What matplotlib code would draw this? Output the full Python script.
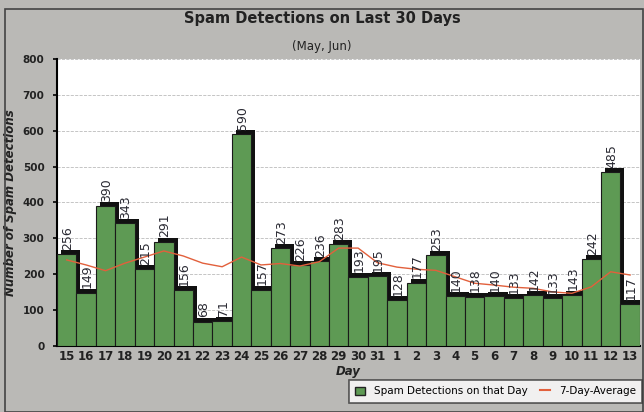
import matplotlib
matplotlib.use("Agg")
import matplotlib.pyplot as plt
from matplotlib.transforms import offset_copy
from matplotlib.patches import Rectangle, Patch
from matplotlib.lines import Line2D

# days shown on the x axis (May 15 .. Jun 13)
days = ["15", "16", "17", "18", "19", "20", "21", "22", "23", "24", "25", "26", "27", "28",
        "29", "30", "31", "1", "2", "3", "4", "5", "6", "7", "8", "9", "10", "11", "12", "13"]
# spam detections per day
counts = [256, 149, 390, 343, 215, 291, 156, 68, 71, 590, 157, 273, 226, 236,
          283, 193, 195, 128, 177, 253, 140, 138, 140, 133, 142, 133, 143, 242, 485, 117]
# 7 day average
avg7 = [240, 226, 210, 231, 248, 265, 251, 231, 221, 248, 226, 230, 223, 235,
        273, 273, 232, 220, 214, 211, 193, 175, 170, 164, 161, 151, 147, 165, 207, 198]

bg = "#bab9b6"
green = "#5e9a54"
red = "#e2603c"

fig = plt.figure(figsize=(6.44, 4.12), dpi=100, facecolor=bg)
ax = fig.add_axes([0.0885, 0.160, 0.905, 0.697])
ax.set_facecolor("white")

x = list(range(len(days)))
# black drop shadow shifted right and up
shadow = offset_copy(ax.transData, fig=fig, x=4, y=4, units="dots")
ax.bar(x, counts, width=1.0, color="#111111", zorder=2, transform=shadow)
ax.bar(x, counts, width=1.0, color=green, edgecolor="#1a1a1a", linewidth=0.8, zorder=3)
ax.plot(x, avg7, color=red, linewidth=1.0, zorder=4)

for xi, v in zip(x, counts):
    ax.text(xi + 0.05, v + 12, str(v), rotation=90, ha="center", va="bottom",
            fontsize=9, color="#2a2a33", zorder=5)

ax.set_xlim(-0.5, 29.5)
ax.set_ylim(0, 800)
ax.set_yticks(range(0, 801, 100))
ax.set_xticks(x)
ax.set_xticklabels(days)
ax.tick_params(axis="y", labelsize=7.5, length=3, width=1.2, pad=6)
ax.tick_params(axis="x", labelsize=8.5, length=0, pad=3)
for lab in ax.get_xticklabels() + ax.get_yticklabels():
    lab.set_fontweight("bold")
    lab.set_color("#222222")
ax.yaxis.grid(True, color="#bbbbbb", linestyle="--", linewidth=0.6)
ax.set_axisbelow(True)
for s in ["top", "right"]:
    ax.spines[s].set_visible(False)
ax.spines["left"].set_linewidth(1.5)
ax.spines["bottom"].set_linewidth(1.5)

ax.set_ylabel("Number of Spam Detections", fontsize=8.5, style="italic", fontweight="bold",
              color="#222222", labelpad=4)
ax.set_xlabel("Day", fontsize=8.5, style="italic", fontweight="bold", color="#222222", labelpad=1)

fig.text(0.5, 0.955, "Spam Detections on Last 30 Days", ha="center", va="center",
         fontsize=10.5, fontweight="bold", color="#222222")
fig.text(0.5, 0.888, "(May, Jun)", ha="center", va="center", fontsize=8.5, color="#222222")

handles = [Patch(facecolor=green, edgecolor="#222222", label="Spam Detections on that Day"),
           Line2D([0], [0], color=red, linewidth=1.5, label="7-Day-Average")]
leg = fig.legend(handles=handles, loc="lower right", bbox_to_anchor=(1.005, 0.01), ncol=2,
                 fontsize=7.5, frameon=True, fancybox=False, handlelength=1.0,
                 handleheight=0.9, columnspacing=1.2, borderpad=0.6)
leg.get_frame().set_edgecolor("#333333")
leg.get_frame().set_linewidth(1.2)

# thin border round the whole figure
fig.patches.append(Rectangle((0.008, 0.0), 0.99, 0.978, transform=fig.transFigure,
                             fill=False, edgecolor="#444444", linewidth=1.2))

plt.savefig("out.png", dpi=100, facecolor=bg)
